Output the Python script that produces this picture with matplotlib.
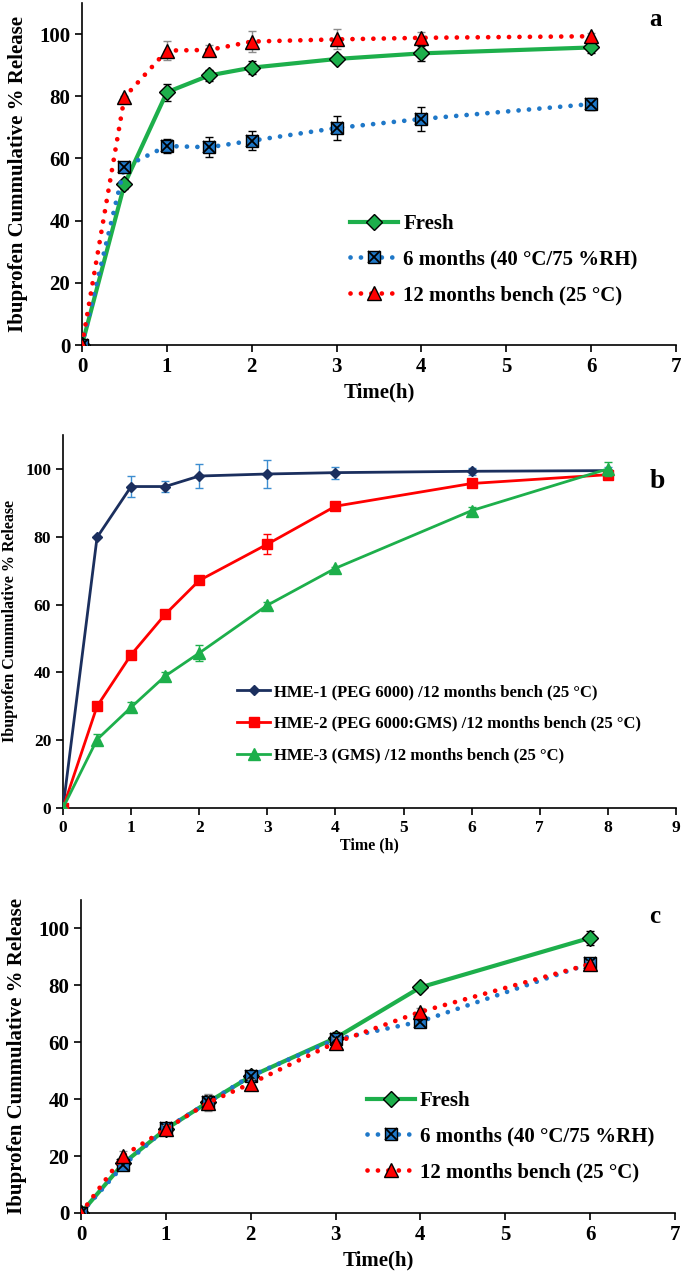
"""
Ibuprofen release profiles: fresh vs stored HME formulations (panels a, b, c).
"""

import matplotlib
matplotlib.use("Agg")
import matplotlib.pyplot as plt

plt.rcParams["font.family"] = ["Liberation Serif", "DejaVu Serif"]
plt.rcParams["font.weight"] = "bold"
plt.rcParams["axes.labelweight"] = "bold"

# ---- panel a ----
time_a = [0, 0.5, 1, 1.5, 2, 3, 4, 6]
fresh_a = [0, 51.7, 81.3, 86.7, 89.2, 92.0, 93.8, 95.7]
fresh_a_err = [0, 1.5, 2.8, 1.8, 2.0, 1.0, 2.5, 1.8]
six_a = [0, 57.3, 64.0, 63.6, 65.7, 69.8, 72.7, 77.5]
six_a_err = [0, 1.5, 2.3, 3.2, 3.0, 4.0, 3.8, 1.8]
twelve_a = [0, 79.7, 94.7, 94.9, 97.6, 98.3, 98.8, 99.3]
twelve_a_err = [0, 0.5, 3.0, 1.5, 3.5, 3.2, 2.0, 1.0]

# ---- panel b ----
time_b = [0, 0.5, 1, 1.5, 2, 3, 4, 6, 8]
hme1 = [0, 79.8, 94.8, 94.8, 97.9, 98.5, 98.9, 99.3, 99.5]
hme1_err = [0, 0, 3.0, 1.5, 3.5, 4.2, 1.8, 1.0, 1.0]
hme2 = [0, 30.0, 45.2, 57.1, 67.1, 77.8, 89.0, 95.7, 98.3]
hme2_err = [0, 0, 0, 0, 0, 3.0, 0, 0, 1.0]
hme3 = [0, 20.2, 29.7, 38.9, 45.7, 59.8, 70.7, 87.7, 100.0]
hme3_err = [0, 1.5, 1.5, 1.3, 2.3, 1.0, 0.5, 1.0, 2.0]

# ---- panel c ----
time_c = [0, 0.5, 1, 1.5, 2, 3, 4, 6]
fresh_c = [0, 17.5, 29.5, 39.0, 48.0, 61.5, 79.3, 96.7]
fresh_c_err = [0, 1.0, 1.0, 2.5, 1.0, 2.0, 1.0, 2.5]
six_c = [0, 16.8, 29.7, 38.9, 48.2, 61.0, 67.3, 87.7]
six_c_err = [0, 1.0, 1.0, 1.5, 1.5, 1.5, 1.0, 1.0]
twelve_c = [0, 20.2, 29.5, 38.8, 45.5, 59.9, 70.7, 87.5]
twelve_c_err = [0, 1.5, 1.5, 3.0, 1.5, 1.5, 1.5, 1.0]

stability_labels = ["Fresh", "6 months (40 \u00b0C/75 %RH)", "12 months bench (25 \u00b0C)"]
hme_labels = [
    "HME-1 (PEG 6000) /12 months bench (25 \u00b0C)",
    "HME-2 (PEG 6000:GMS) /12 months bench (25 \u00b0C)",
    "HME-3 (GMS) /12 months bench (25 \u00b0C)",
]

GREEN = "#1DAF4B"
BLUE = "#1F78C8"
RED = "#FF0000"
NAVY = "#1B2F5E"

W, H = 685, 1276


def px_rect(left, right, top, bottom):
    return [left / W, 1 - bottom / H, (right - left) / W, (bottom - top) / H]


def style_axes(ax, xmax, fs):
    for side in ["top", "right"]:
        ax.spines[side].set_visible(False)
    ax.spines["left"].set_linewidth(1.2)
    ax.spines["bottom"].set_linewidth(1.2)
    ax.set_xlim(0, xmax)
    ax.set_ylim(0, 110)
    ax.set_xticks(range(0, xmax + 1))
    ax.set_yticks(range(0, 101, 20))
    ax.tick_params(direction="out", length=5, width=1.2, labelsize=fs)
    for lbl in ax.get_xticklabels() + ax.get_yticklabels():
        lbl.set_fontweight("bold")


def plot_stability(ax, t, fresh, fresh_err, six, six_err, twelve, twelve_err,
                   letter, legend_xy):
    dots = (0, (0.01, 2.2))
    c1 = ax.errorbar(t, fresh, yerr=fresh_err, color=GREEN, lw=3, marker="D",
                     ms=8, mfc=GREEN, mec="black", mew=1.0, ecolor="black",
                     elinewidth=1, capsize=3, zorder=3)
    c2 = ax.errorbar(t, six, yerr=six_err, color=BLUE, lw=3.4, ls=dots,
                     dash_capstyle="round", marker="s", ms=9, mfc=BLUE,
                     mec="black", mew=1.0, ecolor="black", elinewidth=1,
                     capsize=3, zorder=4)
    xs, = ax.plot(t, six, ls="none", marker="x", ms=8, mec="black", mew=1.3,
                  zorder=5)
    c3 = ax.errorbar(t, twelve, yerr=twelve_err, color=RED, lw=3.4, ls=dots,
                     dash_capstyle="round", marker="^", ms=10, mfc=RED,
                     mec="black", mew=1.0, ecolor="#8c8c8c", elinewidth=1,
                     capsize=3, zorder=6)
    style_axes(ax, 7, 15)
    ax.set_xlabel("Time(h)", fontsize=15, labelpad=4)
    ax.set_ylabel("Ibuprofen Cummulative % Release", fontsize=15, labelpad=8)
    ax.text(0.965, 0.985, letter, transform=ax.transAxes, fontsize=18,
            fontweight="bold", ha="center", va="top")
    ax.legend([c1[0], (c2[0], xs), c3[0]], stability_labels, loc="upper left",
              frameon=False, fontsize=15,
              bbox_to_anchor=(legend_xy[0] / W, 1 - legend_xy[1] / H),
              bbox_transform=ax.figure.transFigure, borderpad=0,
              borderaxespad=0, handlelength=2.3, handletextpad=0.25,
              labelspacing=0.75)


fig = plt.figure(figsize=(6.85, 12.76), dpi=100)

ax_a = fig.add_axes(px_rect(82, 676, 3, 345))
plot_stability(ax_a, time_a, fresh_a, fresh_a_err, six_a, six_a_err,
               twelve_a, twelve_a_err, "a", (350, 214))

ax_b = fig.add_axes(px_rect(63, 676, 435, 808))
b1 = ax_b.errorbar(time_b, hme1, yerr=hme1_err, color=NAVY, lw=2, marker="D",
                   ms=5, mfc=NAVY, mec=NAVY, ecolor="#3C8DD0", elinewidth=1,
                   capsize=3, zorder=3)
b2 = ax_b.errorbar(time_b, hme2, yerr=hme2_err, color=RED, lw=2, marker="s",
                   ms=7, mfc=RED, mec=RED, ecolor=RED, elinewidth=1,
                   capsize=3, zorder=4)
b3 = ax_b.errorbar(time_b, hme3, yerr=hme3_err, color=GREEN, lw=2, marker="^",
                   ms=8, mfc=GREEN, mec=GREEN, ecolor=GREEN, elinewidth=1,
                   capsize=3, zorder=5)
style_axes(ax_b, 9, 12.5)
ax_b.set_xlabel("Time (h)", fontsize=11.5, labelpad=1)
ax_b.set_ylabel("Ibuprofen Cummulative % Release", fontsize=11.5)
ax_b.yaxis.set_label_coords(-0.073, 0.5)
ax_b.text(0.969, 0.874, "b", transform=ax_b.transAxes, fontsize=20,
          fontweight="bold", ha="center", va="center")
ax_b.legend([b1[0], b2[0], b3[0]], hme_labels, loc="upper left",
            frameon=False, fontsize=12,
            bbox_to_anchor=(237 / W, 1 - 684 / H),
            bbox_transform=fig.transFigure, borderpad=0, borderaxespad=0,
            handlelength=2.0, handletextpad=0.2, labelspacing=0.95)

ax_c = fig.add_axes(px_rect(81, 675, 900, 1213))
plot_stability(ax_c, time_c, fresh_c, fresh_c_err, six_c, six_c_err,
               twelve_c, twelve_c_err, "c", (367, 1091))

fig.savefig("out.png", dpi=100)
